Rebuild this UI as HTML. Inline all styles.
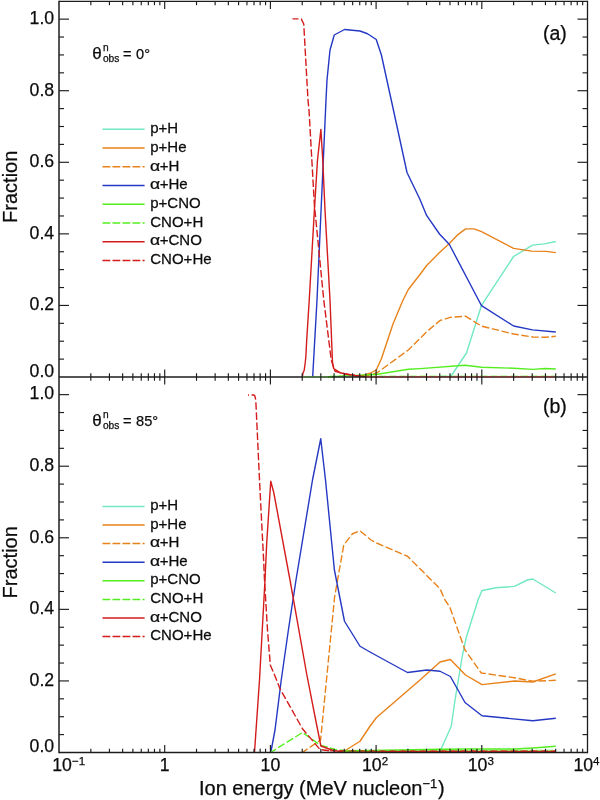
<!DOCTYPE html>
<html><head><meta charset="utf-8"><title>Fraction vs ion energy</title>
<style>
html,body{margin:0;padding:0;background:#fff;}
body{width:600px;height:800px;overflow:hidden;}
svg{display:block;will-change:transform;opacity:0.9999;}
text{font-family:"Liberation Sans",sans-serif;fill:#0c0c0c;stroke:#0c0c0c;stroke-width:0.25px;}
</style></head><body>
<svg width="600" height="800" viewBox="0 0 600 800">
<rect x="0" y="0" width="600" height="800" fill="#ffffff"/>

<g id="curves-a">
<polyline points="440.20,376.40 450.40,376.20 452.40,374.00 466.50,353.00 481.50,305.30 513.60,256.50 532.50,245.10 544.50,243.90 555.80,241.50" fill="none" stroke="#70e8c4" stroke-width="1.4" stroke-linejoin="round"/>
<polyline points="355.00,376.50 362.50,375.50 370.00,373.25 376.25,370.00 381.50,358.50 393.00,324.00 402.60,301.00 408.30,289.50 420.00,274.50 426.60,265.50 439.50,252.60 449.40,243.60 457.50,234.90 465.60,228.90 474.00,228.90 481.50,231.60 513.60,248.40 531.60,251.10 546.00,251.40 555.80,252.60" fill="none" stroke="#e8821a" stroke-width="1.4" stroke-linejoin="round"/>
<polyline points="365.00,376.50 377.50,372.50 408.30,350.00 427.00,331.50 440.00,320.50 450.40,317.40 465.50,316.20 481.70,326.20 513.60,334.00 533.00,337.00 545.00,337.30 555.80,336.30" fill="none" stroke="#e8821a" stroke-width="1.4" stroke-linejoin="round" stroke-dasharray="7.5 2.6" stroke-dashoffset="1.5"/>
<polyline points="312.70,376.50 317.00,300.00 321.30,205.00 326.00,100.00 327.00,80.00 330.00,50.00 334.25,35.00 344.50,29.50 360.00,31.00 367.50,33.75 376.25,39.50 381.40,55.00 391.25,100.00 407.00,172.50 420.00,199.50 426.60,215.40 439.50,234.00 449.40,244.50 478.50,300.00 481.50,305.60 513.60,326.00 532.50,329.90 555.80,332.00" fill="none" stroke="#2438c4" stroke-width="1.4" stroke-linejoin="round"/>
<polyline points="328.00,377.00 340.00,376.10 360.00,375.10 377.50,374.25 408.50,369.30 420.00,368.60 465.00,365.20 481.70,367.30 513.60,368.20 533.00,369.40 545.00,368.50 555.80,369.00" fill="none" stroke="#54ee20" stroke-width="1.4" stroke-linejoin="round"/>
<polyline points="330.00,375.90 555.80,375.90" fill="none" stroke="#54ee20" stroke-width="1.4" stroke-linejoin="round" stroke-dasharray="7.5 2.6" stroke-dashoffset="1.5" stroke-opacity="0.4"/>
<polyline points="302.40,377.00 303.00,373.00 304.20,370.20 305.20,363.00 305.90,356.00 306.70,340.00 309.25,300.00 314.40,210.00 317.50,160.00 320.90,129.40 322.75,160.00 325.00,210.00 330.00,300.00 332.50,362.50 333.70,368.70 340.00,372.70 345.00,373.75 355.00,375.50 365.00,376.60" fill="none" stroke="#d41c1c" stroke-width="1.4" stroke-linejoin="round"/>
<polyline points="292.50,18.90 301.25,18.90 303.75,24.00 308.00,100.00 309.00,110.00 314.40,205.00 323.75,300.00 331.25,360.00 335.00,371.25 345.00,374.00 355.00,375.50 365.00,376.60" fill="none" stroke="#d41c1c" stroke-width="1.4" stroke-linejoin="round" stroke-dasharray="7.5 2.6" stroke-dashoffset="1.5"/>
</g>
<g id="curves-b">
<polyline points="440.00,751.50 451.25,726.25 455.00,700.00 462.50,655.00 466.25,637.50 478.00,600.00 482.00,590.50 496.00,587.70 514.40,586.40 527.40,580.00 532.80,579.00 555.80,593.00" fill="none" stroke="#70e8c4" stroke-width="1.4" stroke-linejoin="round"/>
<polyline points="343.75,751.50 350.00,747.50 360.00,741.25 370.00,726.25 376.50,717.50 420.00,680.00 440.00,662.00 450.40,659.50 465.50,675.00 482.00,684.60 514.40,681.00 532.80,682.00 555.80,673.80" fill="none" stroke="#e8821a" stroke-width="1.4" stroke-linejoin="round"/>
<polyline points="302.60,752.30 320.60,740.00 334.60,597.00 343.75,545.00 352.50,533.75 360.00,530.75 371.00,540.00 376.50,543.00 407.50,556.25 440.00,588.75 445.00,600.00 450.00,607.50 465.00,650.00 481.25,673.00 514.40,677.70 532.80,681.30 555.80,680.30" fill="none" stroke="#e8821a" stroke-width="1.4" stroke-linejoin="round" stroke-dasharray="7.5 2.6" stroke-dashoffset="1.5"/>
<polyline points="270.75,752.00 271.25,750.00 275.00,730.00 281.25,680.00 288.75,627.50 296.00,580.00 312.50,480.00 320.75,438.75 325.50,480.00 334.40,570.00 344.50,621.25 360.00,646.25 370.00,652.00 380.00,657.50 407.50,672.50 427.00,670.00 440.00,671.25 450.40,676.50 465.00,702.50 482.00,715.75 532.80,720.80 555.80,718.20" fill="none" stroke="#2438c4" stroke-width="1.4" stroke-linejoin="round"/>
<polyline points="270.75,752.00 272.50,751.25 302.50,732.50 320.00,745.00 335.00,749.50 345.00,750.60" fill="none" stroke="#54ee20" stroke-width="1.4" stroke-linejoin="round" stroke-dasharray="7.5 2.6" stroke-dashoffset="1.5"/>
<polyline points="254.40,752.00 254.60,751.00 259.50,680.00 265.00,580.00 266.75,542.50 270.75,481.25 273.75,492.50 290.00,580.00 306.50,673.00 314.70,715.00 320.90,746.00 333.30,750.50 340.00,751.50 555.80,751.50" fill="none" stroke="#d41c1c" stroke-width="1.4" stroke-linejoin="round"/>
<polyline points="343.00,751.60 347.00,751.00 360.00,750.70 400.00,750.00 440.00,749.20 470.00,749.00 514.40,749.00 532.80,748.00 555.80,746.30" fill="none" stroke="#54ee20" stroke-width="1.4" stroke-linejoin="round"/>
<polyline points="248.00,395.00 254.00,395.00 255.00,396.30 255.80,400.50 259.50,480.00 263.75,562.50 264.50,580.00 267.50,630.00 270.30,665.00 275.00,676.00 280.00,688.75 302.50,728.75 320.00,749.50 330.00,750.80" fill="none" stroke="#d41c1c" stroke-width="1.4" stroke-linejoin="round" stroke-dasharray="7.5 2.6" stroke-dashoffset="6.5"/>
<polyline points="330.00,750.80 555.80,750.70" fill="none" stroke="#d41c1c" stroke-width="1.4" stroke-linejoin="round" stroke-dasharray="7.5 2.6" stroke-dashoffset="1.5" stroke-opacity="0.75"/>
<polyline points="345.00,750.40 555.80,750.20" fill="none" stroke="#54ee20" stroke-width="1.4" stroke-linejoin="round" stroke-dasharray="7.5 2.6" stroke-dashoffset="1.5" stroke-opacity="0.45"/>
</g>
<g id="legend-a"><line x1="102.5" y1="129.30" x2="144.6" y2="129.30" stroke="#70e8c4" stroke-width="1.5"/>
<text transform="translate(150.2,133.20) scale(1.03,1)" font-size="14.6">p+H</text>
<line x1="102.5" y1="148.03" x2="144.6" y2="148.03" stroke="#e8821a" stroke-width="1.5"/>
<text transform="translate(150.2,151.87) scale(1.03,1)" font-size="14.6">p+He</text>
<line x1="102.5" y1="166.76" x2="144.6" y2="166.76" stroke="#e8821a" stroke-width="1.5" stroke-dasharray="7.8 2.2"/>
<text transform="translate(150.0,170.54) scale(1.2,1)" font-size="14.6">α</text>
<text transform="translate(159.7,170.54) scale(1.03,1)" font-size="14.6">+H</text>
<line x1="102.5" y1="185.49" x2="144.6" y2="185.49" stroke="#2438c4" stroke-width="1.5"/>
<text transform="translate(150.0,189.21) scale(1.2,1)" font-size="14.6">α</text>
<text transform="translate(159.7,189.21) scale(1.03,1)" font-size="14.6">+He</text>
<line x1="102.5" y1="204.22" x2="144.6" y2="204.22" stroke="#54ee20" stroke-width="1.5"/>
<text transform="translate(150.2,207.88) scale(1.03,1)" font-size="14.6">p+CNO</text>
<line x1="102.5" y1="222.95" x2="144.6" y2="222.95" stroke="#54ee20" stroke-width="1.5" stroke-dasharray="7.8 2.2"/>
<text transform="translate(150.2,226.55) scale(1.03,1)" font-size="14.6">CNO+H</text>
<line x1="102.5" y1="241.68" x2="144.6" y2="241.68" stroke="#d41c1c" stroke-width="1.5"/>
<text transform="translate(150.0,245.22) scale(1.2,1)" font-size="14.6">α</text>
<text transform="translate(159.7,245.22) scale(1.03,1)" font-size="14.6">+CNO</text>
<line x1="102.5" y1="260.41" x2="144.6" y2="260.41" stroke="#d41c1c" stroke-width="1.5" stroke-dasharray="7.8 2.2"/>
<text transform="translate(150.2,263.89) scale(1.03,1)" font-size="14.6">CNO+He</text></g>
<g id="legend-b"><line x1="102.5" y1="506.40" x2="144.6" y2="506.40" stroke="#70e8c4" stroke-width="1.5"/>
<text transform="translate(150.2,510.30) scale(1.03,1)" font-size="14.6">p+H</text>
<line x1="102.5" y1="525.00" x2="144.6" y2="525.00" stroke="#e8821a" stroke-width="1.5"/>
<text transform="translate(150.2,528.84) scale(1.03,1)" font-size="14.6">p+He</text>
<line x1="102.5" y1="543.60" x2="144.6" y2="543.60" stroke="#e8821a" stroke-width="1.5" stroke-dasharray="7.8 2.2"/>
<text transform="translate(150.0,547.38) scale(1.2,1)" font-size="14.6">α</text>
<text transform="translate(159.7,547.38) scale(1.03,1)" font-size="14.6">+H</text>
<line x1="102.5" y1="562.20" x2="144.6" y2="562.20" stroke="#2438c4" stroke-width="1.5"/>
<text transform="translate(150.0,565.92) scale(1.2,1)" font-size="14.6">α</text>
<text transform="translate(159.7,565.92) scale(1.03,1)" font-size="14.6">+He</text>
<line x1="102.5" y1="580.80" x2="144.6" y2="580.80" stroke="#54ee20" stroke-width="1.5"/>
<text transform="translate(150.2,584.46) scale(1.03,1)" font-size="14.6">p+CNO</text>
<line x1="102.5" y1="599.40" x2="144.6" y2="599.40" stroke="#54ee20" stroke-width="1.5" stroke-dasharray="7.8 2.2"/>
<text transform="translate(150.2,603.00) scale(1.03,1)" font-size="14.6">CNO+H</text>
<line x1="102.5" y1="618.00" x2="144.6" y2="618.00" stroke="#d41c1c" stroke-width="1.5"/>
<text transform="translate(150.0,621.54) scale(1.2,1)" font-size="14.6">α</text>
<text transform="translate(159.7,621.54) scale(1.03,1)" font-size="14.6">+CNO</text>
<line x1="102.5" y1="636.60" x2="144.6" y2="636.60" stroke="#d41c1c" stroke-width="1.5" stroke-dasharray="7.8 2.2"/>
<text transform="translate(150.2,640.08) scale(1.03,1)" font-size="14.6">CNO+He</text></g>
<g stroke="#1c1c1c" fill="none" stroke-linecap="butt">
<line x1="59.0" y1="0.85" x2="59.0" y2="753.2" stroke-width="1.5"/>
<line x1="587.5" y1="0.85" x2="587.5" y2="753.2" stroke-width="1.3"/>
<line x1="59.0" y1="1.45" x2="587.5" y2="1.45" stroke-width="1.2"/>
<line x1="59.0" y1="377.0" x2="587.5" y2="377.0" stroke-width="1.4"/>
<line x1="59.0" y1="752.5" x2="587.5" y2="752.5" stroke-width="1.4"/>
</g>
<polyline points="302.60,377.00 332.00,377.00" fill="none" stroke="#54ee20" stroke-width="1.4" stroke-linejoin="round" stroke-opacity="0.3"/>
<polyline points="365.00,376.90 555.80,376.90" fill="none" stroke="#d41c1c" stroke-width="1.4" stroke-linejoin="round" stroke-opacity="0.2"/>
<polyline points="365.00,376.70 555.80,376.70" fill="none" stroke="#d41c1c" stroke-width="1.4" stroke-linejoin="round" stroke-dasharray="7.5 2.6" stroke-dashoffset="1.5" stroke-opacity="0.3"/>
<g stroke="#1c1c1c" stroke-width="1.15" fill="none">
<line x1="90.82" y1="1.45" x2="90.82" y2="5.2"/>
<line x1="90.82" y1="373.25" x2="90.82" y2="380.75"/>
<line x1="90.82" y1="748.75" x2="90.82" y2="752.5"/>
<line x1="109.43" y1="1.45" x2="109.43" y2="5.2"/>
<line x1="109.43" y1="373.25" x2="109.43" y2="380.75"/>
<line x1="109.43" y1="748.75" x2="109.43" y2="752.5"/>
<line x1="122.64" y1="1.45" x2="122.64" y2="5.2"/>
<line x1="122.64" y1="373.25" x2="122.64" y2="380.75"/>
<line x1="122.64" y1="748.75" x2="122.64" y2="752.5"/>
<line x1="132.88" y1="1.45" x2="132.88" y2="5.2"/>
<line x1="132.88" y1="373.25" x2="132.88" y2="380.75"/>
<line x1="132.88" y1="748.75" x2="132.88" y2="752.5"/>
<line x1="141.25" y1="1.45" x2="141.25" y2="5.2"/>
<line x1="141.25" y1="373.25" x2="141.25" y2="380.75"/>
<line x1="141.25" y1="748.75" x2="141.25" y2="752.5"/>
<line x1="148.33" y1="1.45" x2="148.33" y2="5.2"/>
<line x1="148.33" y1="373.25" x2="148.33" y2="380.75"/>
<line x1="148.33" y1="748.75" x2="148.33" y2="752.5"/>
<line x1="154.46" y1="1.45" x2="154.46" y2="5.2"/>
<line x1="154.46" y1="373.25" x2="154.46" y2="380.75"/>
<line x1="154.46" y1="748.75" x2="154.46" y2="752.5"/>
<line x1="159.86" y1="1.45" x2="159.86" y2="5.2"/>
<line x1="159.86" y1="373.25" x2="159.86" y2="380.75"/>
<line x1="159.86" y1="748.75" x2="159.86" y2="752.5"/>
<line x1="164.70" y1="1.45" x2="164.70" y2="8.95"/>
<line x1="164.70" y1="369.5" x2="164.70" y2="384.5"/>
<line x1="164.70" y1="745.0" x2="164.70" y2="752.5"/>
<line x1="196.52" y1="1.45" x2="196.52" y2="5.2"/>
<line x1="196.52" y1="373.25" x2="196.52" y2="380.75"/>
<line x1="196.52" y1="748.75" x2="196.52" y2="752.5"/>
<line x1="215.13" y1="1.45" x2="215.13" y2="5.2"/>
<line x1="215.13" y1="373.25" x2="215.13" y2="380.75"/>
<line x1="215.13" y1="748.75" x2="215.13" y2="752.5"/>
<line x1="228.34" y1="1.45" x2="228.34" y2="5.2"/>
<line x1="228.34" y1="373.25" x2="228.34" y2="380.75"/>
<line x1="228.34" y1="748.75" x2="228.34" y2="752.5"/>
<line x1="238.58" y1="1.45" x2="238.58" y2="5.2"/>
<line x1="238.58" y1="373.25" x2="238.58" y2="380.75"/>
<line x1="238.58" y1="748.75" x2="238.58" y2="752.5"/>
<line x1="246.95" y1="1.45" x2="246.95" y2="5.2"/>
<line x1="246.95" y1="373.25" x2="246.95" y2="380.75"/>
<line x1="246.95" y1="748.75" x2="246.95" y2="752.5"/>
<line x1="254.03" y1="1.45" x2="254.03" y2="5.2"/>
<line x1="254.03" y1="373.25" x2="254.03" y2="380.75"/>
<line x1="254.03" y1="748.75" x2="254.03" y2="752.5"/>
<line x1="260.16" y1="1.45" x2="260.16" y2="5.2"/>
<line x1="260.16" y1="373.25" x2="260.16" y2="380.75"/>
<line x1="260.16" y1="748.75" x2="260.16" y2="752.5"/>
<line x1="265.56" y1="1.45" x2="265.56" y2="5.2"/>
<line x1="265.56" y1="373.25" x2="265.56" y2="380.75"/>
<line x1="265.56" y1="748.75" x2="265.56" y2="752.5"/>
<line x1="270.40" y1="1.45" x2="270.40" y2="8.95"/>
<line x1="270.40" y1="369.5" x2="270.40" y2="384.5"/>
<line x1="270.40" y1="745.0" x2="270.40" y2="752.5"/>
<line x1="302.22" y1="1.45" x2="302.22" y2="5.2"/>
<line x1="302.22" y1="373.25" x2="302.22" y2="380.75"/>
<line x1="302.22" y1="748.75" x2="302.22" y2="752.5"/>
<line x1="320.83" y1="1.45" x2="320.83" y2="5.2"/>
<line x1="320.83" y1="373.25" x2="320.83" y2="380.75"/>
<line x1="320.83" y1="748.75" x2="320.83" y2="752.5"/>
<line x1="334.04" y1="1.45" x2="334.04" y2="5.2"/>
<line x1="334.04" y1="373.25" x2="334.04" y2="380.75"/>
<line x1="334.04" y1="748.75" x2="334.04" y2="752.5"/>
<line x1="344.28" y1="1.45" x2="344.28" y2="5.2"/>
<line x1="344.28" y1="373.25" x2="344.28" y2="380.75"/>
<line x1="344.28" y1="748.75" x2="344.28" y2="752.5"/>
<line x1="352.65" y1="1.45" x2="352.65" y2="5.2"/>
<line x1="352.65" y1="373.25" x2="352.65" y2="380.75"/>
<line x1="352.65" y1="748.75" x2="352.65" y2="752.5"/>
<line x1="359.73" y1="1.45" x2="359.73" y2="5.2"/>
<line x1="359.73" y1="373.25" x2="359.73" y2="380.75"/>
<line x1="359.73" y1="748.75" x2="359.73" y2="752.5"/>
<line x1="365.86" y1="1.45" x2="365.86" y2="5.2"/>
<line x1="365.86" y1="373.25" x2="365.86" y2="380.75"/>
<line x1="365.86" y1="748.75" x2="365.86" y2="752.5"/>
<line x1="371.26" y1="1.45" x2="371.26" y2="5.2"/>
<line x1="371.26" y1="373.25" x2="371.26" y2="380.75"/>
<line x1="371.26" y1="748.75" x2="371.26" y2="752.5"/>
<line x1="376.10" y1="1.45" x2="376.10" y2="8.95"/>
<line x1="376.10" y1="369.5" x2="376.10" y2="384.5"/>
<line x1="376.10" y1="745.0" x2="376.10" y2="752.5"/>
<line x1="407.92" y1="1.45" x2="407.92" y2="5.2"/>
<line x1="407.92" y1="373.25" x2="407.92" y2="380.75"/>
<line x1="407.92" y1="748.75" x2="407.92" y2="752.5"/>
<line x1="426.53" y1="1.45" x2="426.53" y2="5.2"/>
<line x1="426.53" y1="373.25" x2="426.53" y2="380.75"/>
<line x1="426.53" y1="748.75" x2="426.53" y2="752.5"/>
<line x1="439.74" y1="1.45" x2="439.74" y2="5.2"/>
<line x1="439.74" y1="373.25" x2="439.74" y2="380.75"/>
<line x1="439.74" y1="748.75" x2="439.74" y2="752.5"/>
<line x1="449.98" y1="1.45" x2="449.98" y2="5.2"/>
<line x1="449.98" y1="373.25" x2="449.98" y2="380.75"/>
<line x1="449.98" y1="748.75" x2="449.98" y2="752.5"/>
<line x1="458.35" y1="1.45" x2="458.35" y2="5.2"/>
<line x1="458.35" y1="373.25" x2="458.35" y2="380.75"/>
<line x1="458.35" y1="748.75" x2="458.35" y2="752.5"/>
<line x1="465.43" y1="1.45" x2="465.43" y2="5.2"/>
<line x1="465.43" y1="373.25" x2="465.43" y2="380.75"/>
<line x1="465.43" y1="748.75" x2="465.43" y2="752.5"/>
<line x1="471.56" y1="1.45" x2="471.56" y2="5.2"/>
<line x1="471.56" y1="373.25" x2="471.56" y2="380.75"/>
<line x1="471.56" y1="748.75" x2="471.56" y2="752.5"/>
<line x1="476.96" y1="1.45" x2="476.96" y2="5.2"/>
<line x1="476.96" y1="373.25" x2="476.96" y2="380.75"/>
<line x1="476.96" y1="748.75" x2="476.96" y2="752.5"/>
<line x1="481.80" y1="1.45" x2="481.80" y2="8.95"/>
<line x1="481.80" y1="369.5" x2="481.80" y2="384.5"/>
<line x1="481.80" y1="745.0" x2="481.80" y2="752.5"/>
<line x1="513.62" y1="1.45" x2="513.62" y2="5.2"/>
<line x1="513.62" y1="373.25" x2="513.62" y2="380.75"/>
<line x1="513.62" y1="748.75" x2="513.62" y2="752.5"/>
<line x1="532.23" y1="1.45" x2="532.23" y2="5.2"/>
<line x1="532.23" y1="373.25" x2="532.23" y2="380.75"/>
<line x1="532.23" y1="748.75" x2="532.23" y2="752.5"/>
<line x1="545.44" y1="1.45" x2="545.44" y2="5.2"/>
<line x1="545.44" y1="373.25" x2="545.44" y2="380.75"/>
<line x1="545.44" y1="748.75" x2="545.44" y2="752.5"/>
<line x1="555.68" y1="1.45" x2="555.68" y2="5.2"/>
<line x1="555.68" y1="373.25" x2="555.68" y2="380.75"/>
<line x1="555.68" y1="748.75" x2="555.68" y2="752.5"/>
<line x1="564.05" y1="1.45" x2="564.05" y2="5.2"/>
<line x1="564.05" y1="373.25" x2="564.05" y2="380.75"/>
<line x1="564.05" y1="748.75" x2="564.05" y2="752.5"/>
<line x1="571.13" y1="1.45" x2="571.13" y2="5.2"/>
<line x1="571.13" y1="373.25" x2="571.13" y2="380.75"/>
<line x1="571.13" y1="748.75" x2="571.13" y2="752.5"/>
<line x1="577.26" y1="1.45" x2="577.26" y2="5.2"/>
<line x1="577.26" y1="373.25" x2="577.26" y2="380.75"/>
<line x1="577.26" y1="748.75" x2="577.26" y2="752.5"/>
<line x1="582.66" y1="1.45" x2="582.66" y2="5.2"/>
<line x1="582.66" y1="373.25" x2="582.66" y2="380.75"/>
<line x1="582.66" y1="748.75" x2="582.66" y2="752.5"/>
<line x1="59.0" y1="359.11" x2="64.0" y2="359.11"/>
<line x1="582.5" y1="359.11" x2="587.5" y2="359.11"/>
<line x1="59.0" y1="734.61" x2="64.0" y2="734.61"/>
<line x1="582.5" y1="734.61" x2="587.5" y2="734.61"/>
<line x1="59.0" y1="341.21" x2="64.0" y2="341.21"/>
<line x1="582.5" y1="341.21" x2="587.5" y2="341.21"/>
<line x1="59.0" y1="716.72" x2="64.0" y2="716.72"/>
<line x1="582.5" y1="716.72" x2="587.5" y2="716.72"/>
<line x1="59.0" y1="323.32" x2="64.0" y2="323.32"/>
<line x1="582.5" y1="323.32" x2="587.5" y2="323.32"/>
<line x1="59.0" y1="698.82" x2="64.0" y2="698.82"/>
<line x1="582.5" y1="698.82" x2="587.5" y2="698.82"/>
<line x1="59.0" y1="305.43" x2="69.0" y2="305.43"/>
<line x1="577.5" y1="305.43" x2="587.5" y2="305.43"/>
<line x1="59.0" y1="680.93" x2="69.0" y2="680.93"/>
<line x1="577.5" y1="680.93" x2="587.5" y2="680.93"/>
<line x1="59.0" y1="287.54" x2="64.0" y2="287.54"/>
<line x1="582.5" y1="287.54" x2="587.5" y2="287.54"/>
<line x1="59.0" y1="663.04" x2="64.0" y2="663.04"/>
<line x1="582.5" y1="663.04" x2="587.5" y2="663.04"/>
<line x1="59.0" y1="269.64" x2="64.0" y2="269.64"/>
<line x1="582.5" y1="269.64" x2="587.5" y2="269.64"/>
<line x1="59.0" y1="645.14" x2="64.0" y2="645.14"/>
<line x1="582.5" y1="645.14" x2="587.5" y2="645.14"/>
<line x1="59.0" y1="251.75" x2="64.0" y2="251.75"/>
<line x1="582.5" y1="251.75" x2="587.5" y2="251.75"/>
<line x1="59.0" y1="627.25" x2="64.0" y2="627.25"/>
<line x1="582.5" y1="627.25" x2="587.5" y2="627.25"/>
<line x1="59.0" y1="233.86" x2="69.0" y2="233.86"/>
<line x1="577.5" y1="233.86" x2="587.5" y2="233.86"/>
<line x1="59.0" y1="609.36" x2="69.0" y2="609.36"/>
<line x1="577.5" y1="609.36" x2="587.5" y2="609.36"/>
<line x1="59.0" y1="215.97" x2="64.0" y2="215.97"/>
<line x1="582.5" y1="215.97" x2="587.5" y2="215.97"/>
<line x1="59.0" y1="591.47" x2="64.0" y2="591.47"/>
<line x1="582.5" y1="591.47" x2="587.5" y2="591.47"/>
<line x1="59.0" y1="198.07" x2="64.0" y2="198.07"/>
<line x1="582.5" y1="198.07" x2="587.5" y2="198.07"/>
<line x1="59.0" y1="573.58" x2="64.0" y2="573.58"/>
<line x1="582.5" y1="573.58" x2="587.5" y2="573.58"/>
<line x1="59.0" y1="180.18" x2="64.0" y2="180.18"/>
<line x1="582.5" y1="180.18" x2="587.5" y2="180.18"/>
<line x1="59.0" y1="555.68" x2="64.0" y2="555.68"/>
<line x1="582.5" y1="555.68" x2="587.5" y2="555.68"/>
<line x1="59.0" y1="162.29" x2="69.0" y2="162.29"/>
<line x1="577.5" y1="162.29" x2="587.5" y2="162.29"/>
<line x1="59.0" y1="537.79" x2="69.0" y2="537.79"/>
<line x1="577.5" y1="537.79" x2="587.5" y2="537.79"/>
<line x1="59.0" y1="144.40" x2="64.0" y2="144.40"/>
<line x1="582.5" y1="144.40" x2="587.5" y2="144.40"/>
<line x1="59.0" y1="519.90" x2="64.0" y2="519.90"/>
<line x1="582.5" y1="519.90" x2="587.5" y2="519.90"/>
<line x1="59.0" y1="126.50" x2="64.0" y2="126.50"/>
<line x1="582.5" y1="126.50" x2="587.5" y2="126.50"/>
<line x1="59.0" y1="502.00" x2="64.0" y2="502.00"/>
<line x1="582.5" y1="502.00" x2="587.5" y2="502.00"/>
<line x1="59.0" y1="108.61" x2="64.0" y2="108.61"/>
<line x1="582.5" y1="108.61" x2="587.5" y2="108.61"/>
<line x1="59.0" y1="484.11" x2="64.0" y2="484.11"/>
<line x1="582.5" y1="484.11" x2="587.5" y2="484.11"/>
<line x1="59.0" y1="90.72" x2="69.0" y2="90.72"/>
<line x1="577.5" y1="90.72" x2="587.5" y2="90.72"/>
<line x1="59.0" y1="466.22" x2="69.0" y2="466.22"/>
<line x1="577.5" y1="466.22" x2="587.5" y2="466.22"/>
<line x1="59.0" y1="72.83" x2="64.0" y2="72.83"/>
<line x1="582.5" y1="72.83" x2="587.5" y2="72.83"/>
<line x1="59.0" y1="448.33" x2="64.0" y2="448.33"/>
<line x1="582.5" y1="448.33" x2="587.5" y2="448.33"/>
<line x1="59.0" y1="54.93" x2="64.0" y2="54.93"/>
<line x1="582.5" y1="54.93" x2="587.5" y2="54.93"/>
<line x1="59.0" y1="430.43" x2="64.0" y2="430.43"/>
<line x1="582.5" y1="430.43" x2="587.5" y2="430.43"/>
<line x1="59.0" y1="37.04" x2="64.0" y2="37.04"/>
<line x1="582.5" y1="37.04" x2="587.5" y2="37.04"/>
<line x1="59.0" y1="412.54" x2="64.0" y2="412.54"/>
<line x1="582.5" y1="412.54" x2="587.5" y2="412.54"/>
<line x1="59.0" y1="19.15" x2="69.0" y2="19.15"/>
<line x1="577.5" y1="19.15" x2="587.5" y2="19.15"/>
<line x1="59.0" y1="394.65" x2="69.0" y2="394.65"/>
<line x1="577.5" y1="394.65" x2="587.5" y2="394.65"/>
</g>
<text x="54.2" y="376.70" font-size="17.7" text-anchor="end">0.0</text>
<text x="54.2" y="310.23" font-size="17.7" text-anchor="end">0.2</text>
<text x="54.2" y="238.66" font-size="17.7" text-anchor="end">0.4</text>
<text x="54.2" y="167.09" font-size="17.7" text-anchor="end">0.6</text>
<text x="54.2" y="95.52" font-size="17.7" text-anchor="end">0.8</text>
<text x="54.2" y="23.95" font-size="17.7" text-anchor="end">1.0</text>
<text x="54.2" y="752.20" font-size="17.7" text-anchor="end">0.0</text>
<text x="54.2" y="685.73" font-size="17.7" text-anchor="end">0.2</text>
<text x="54.2" y="614.16" font-size="17.7" text-anchor="end">0.4</text>
<text x="54.2" y="542.59" font-size="17.7" text-anchor="end">0.6</text>
<text x="54.2" y="471.02" font-size="17.7" text-anchor="end">0.8</text>
<text x="54.2" y="399.45" font-size="17.7" text-anchor="end">1.0</text>
<text x="52.2" y="771.2" font-size="17.7">10<tspan font-size="11.6" dy="-6.0">−1</tspan></text>
<text x="164.70" y="771.2" font-size="17.7" text-anchor="middle">1</text>
<text x="270.40" y="771.2" font-size="17.7" text-anchor="middle">10</text>
<text x="375.10" y="771.2" font-size="17.7" text-anchor="middle">10<tspan font-size="11.6" dy="-6.0">2</tspan></text>
<text x="480.80" y="771.2" font-size="17.7" text-anchor="middle">10<tspan font-size="11.6" dy="-6.0">3</tspan></text>
<text x="586.50" y="771.2" font-size="17.7" text-anchor="middle">10<tspan font-size="11.6" dy="-6.0">4</tspan></text>
<text x="199" y="795.2" font-size="20">Ion energy (MeV nucleon<tspan font-size="13" dy="-7.6">−1</tspan><tspan dy="7.6" dx="0.8">)</tspan></text>
<text transform="translate(17.4,222.9) rotate(-90)" font-size="20">Fraction</text>
<text transform="translate(17.4,598.4) rotate(-90)" font-size="20">Fraction</text>
<text x="543" y="39.9" font-size="19.5">(a)</text>
<text x="543" y="412.8" font-size="19.5">(b)</text>
<text x="92.2" y="58.7" font-size="17">θ</text><text x="102.9" y="50.80" font-size="10.2">n</text><text x="102.9" y="62.00" font-size="10.2">obs</text><text x="123.1" y="58.7" font-size="14.6">= <tspan dx="0.4">0°</tspan></text>
<text x="92.2" y="425.5" font-size="17">θ</text><text x="102.9" y="417.60" font-size="10.2">n</text><text x="102.9" y="428.80" font-size="10.2">obs</text><text x="123.1" y="425.5" font-size="14.6">= <tspan dx="0.4">85°</tspan></text>
</svg></body></html>
